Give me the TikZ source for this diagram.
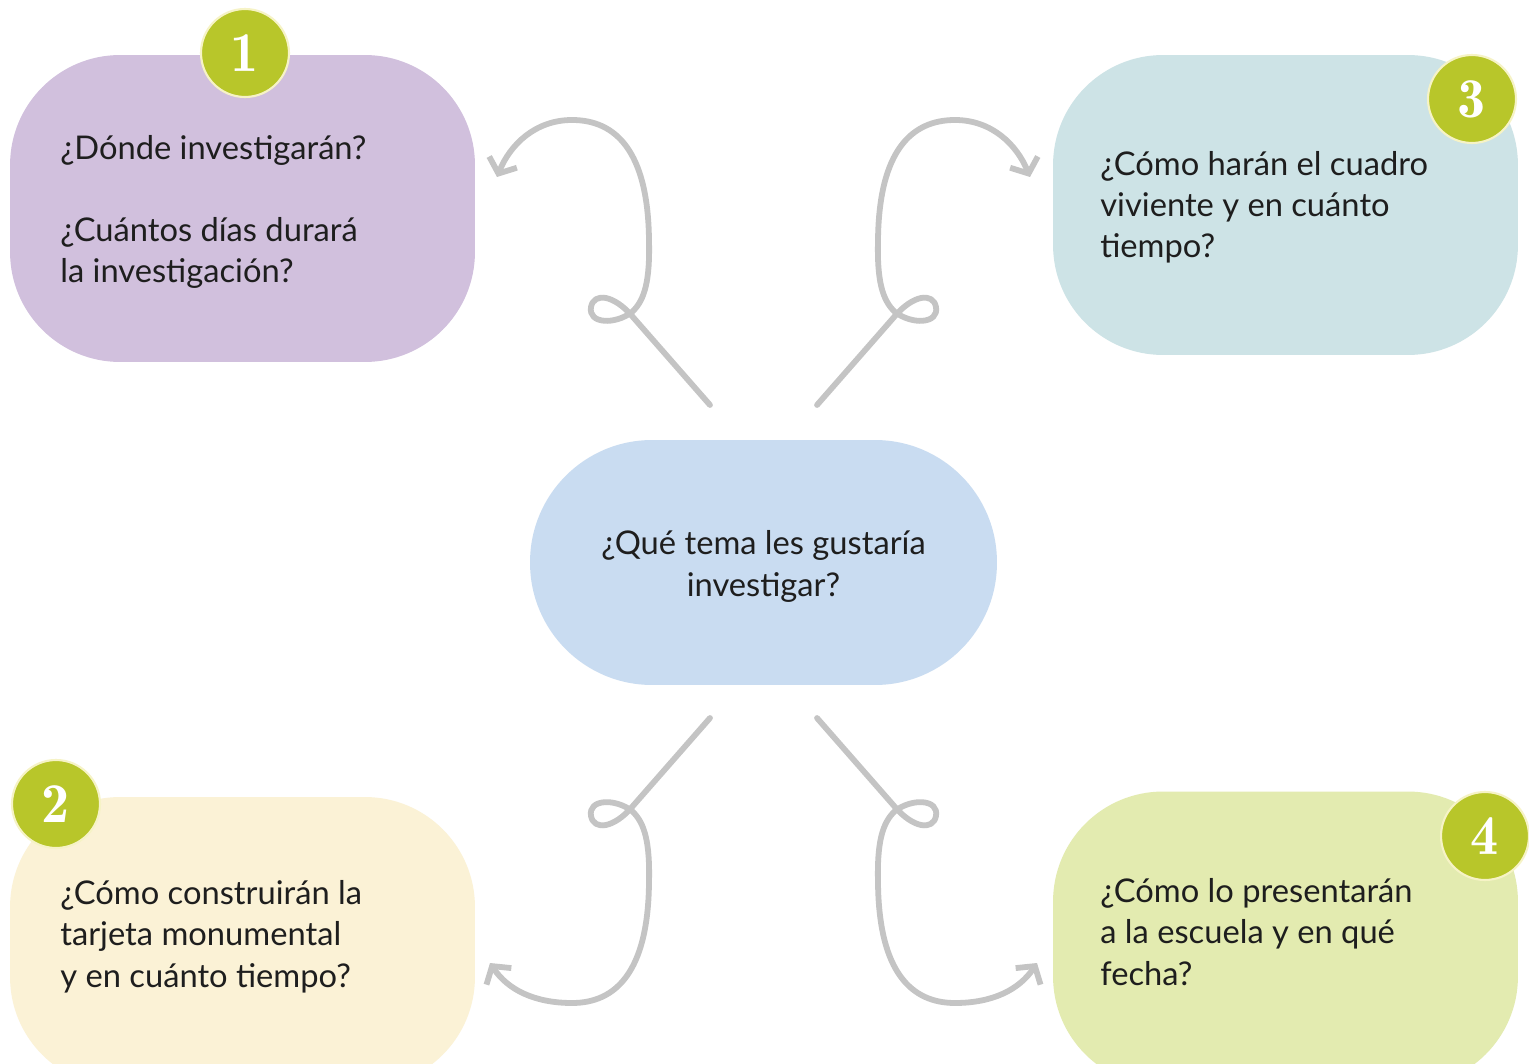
\documentclass[tikz,border=0pt]{standalone}
\usepackage{fontspec}
\setmainfont{Lato}
\usetikzlibrary{arrows.meta}
\definecolor{boxA}{HTML}{D1C0DD}
\definecolor{boxB}{HTML}{FBF2D6}
\definecolor{boxC}{HTML}{CDE3E6}
\definecolor{boxD}{HTML}{E3EBB0}
\definecolor{boxM}{HTML}{C9DCF1}
\definecolor{numgreen}{HTML}{B8C62A}
\definecolor{numring}{HTML}{F6F3C6}
\definecolor{arrowgray}{HTML}{C4C4C4}
\definecolor{txt}{HTML}{1E1E1E}
\begin{document}
\begin{tikzpicture}[x=0.02cm,y=-0.02cm,
  qbox/.style={draw=none, inner sep=0pt, rounded corners=2.2cm},
  qtext/.style={anchor=base west, inner sep=0pt, align=left, text=txt,
    font=\fontsize{18.6}{23.5}\selectfont},
  numc/.style={circle, fill=numgreen, draw=numring, line width=1.2pt,
    minimum size=1.76cm, inner sep=0pt, text=white,
    font=\fontfamily{lmr}\fontsize{32}{32}\selectfont\bfseries},
  conn/.style={draw=arrowgray, line width=3.3pt, line cap=round, line join=round,
    -{Straight Barb[length=7pt,width=17pt]}}]
\useasboundingbox (0,0) rectangle (1529,1064);
\clip (0,0) rectangle (1529,1064);
\fill[white] (0,0) rectangle (1529,1064);

% boxes
\node[qbox, fill=boxA, minimum width=9.3cm, minimum height=6.14cm] (b1) at (242.5,208.5) {};
\node[qbox, fill=boxC, minimum width=9.3cm, minimum height=6.0cm] (b3) at (1285.5,205) {};
\node[qbox, fill=boxB, minimum width=9.3cm, minimum height=5.8cm] (b2) at (242.5,942) {};
\node[qbox, fill=boxD, minimum width=9.3cm, minimum height=5.9cm] (b4) at (1285.5,939) {};
\node[draw=none, fill=boxM, rounded corners=2.44cm, minimum width=9.34cm, minimum height=4.9cm,
  inner sep=0pt, align=center, text=txt, font=\fontsize{18.6}{23.5}\selectfont] (m) at (763.5,562.5)
  {};
\node[anchor=base, inner sep=0pt, align=center, text=txt, font=\fontsize{18.6}{23.5}\selectfont]
  (mt) at (763.5,596) {¿Qué tema les gustaría\\investigar?};

% texts (base anchor = baseline of the last line)
\node[qtext] (t1) at (60,283) {¿Dónde investigarán?\\[23.5pt]¿Cuántos días durará\\la investigación?};
\node[qtext] (t3) at (1100,258) {¿Cómo harán el cuadro\\viviente y en cuánto\\tiempo?};
\node[qtext] (t2) at (60,987) {¿Cómo construirán la\\tarjeta monumental\\y en cuánto tiempo?};
\node[qtext] (t4) at (1100,985) {¿Cómo lo presentarán\\a la escuela y en qué\\fecha?};

% number circles
\node[numc] (n1) at (245,53) {1};
\node[numc] (n2) at (56,804) {2};
\node[numc] (n3) at (1472,99) {3};
\node[numc] (n4) at (1485,836) {4};

% connector ends
\coordinate (s1) at (710,405);
\coordinate (s3) at (817,405);
\coordinate (s2) at (710,718);
\coordinate (s4) at (817,718);
\coordinate (e1) at (497,177);
\coordinate (e3) at (1030,177);
\coordinate (e2) at (490,963);
\coordinate (e4) at (1037,963);

\draw[conn] (s1) -- (632,316) .. controls (614,295) and (594,292) .. (591,307)
  .. controls (588,324) and (615,325) .. (632,312)
  .. controls (645,300) and (650,280) .. (649,240)
  .. controls (648,150) and (615,120) .. (572,120)
  .. controls (535,120) and (510,145) .. (e1);
\draw[conn] (s3) -- (895,316) .. controls (913,295) and (933,292) .. (936,307)
  .. controls (939,324) and (912,325) .. (895,312)
  .. controls (882,300) and (877,280) .. (878,240)
  .. controls (879,150) and (912,120) .. (955,120)
  .. controls (992,120) and (1017,145) .. (e3);
\draw[conn] (s2) -- (632,807) .. controls (614,828) and (594,831) .. (591,816)
  .. controls (588,799) and (615,798) .. (632,811)
  .. controls (645,823) and (650,843) .. (649,883)
  .. controls (648,973) and (615,1003) .. (572,1003)
  .. controls (535,1003) and (508,990) .. (e2);
\draw[conn] (s4) -- (895,807) .. controls (913,828) and (933,831) .. (936,816)
  .. controls (939,799) and (912,798) .. (895,811)
  .. controls (882,823) and (877,843) .. (878,883)
  .. controls (879,973) and (912,1003) .. (955,1003)
  .. controls (992,1003) and (1019,990) .. (e4);
\end{tikzpicture}
\end{document}
